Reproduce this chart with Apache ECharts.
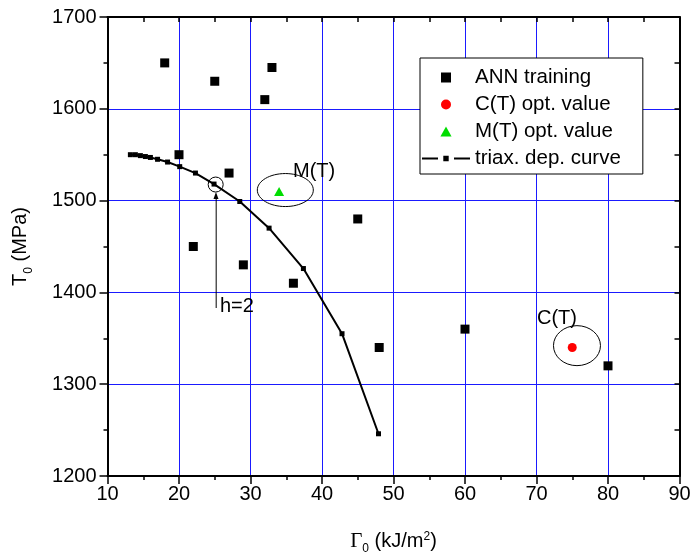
<!DOCTYPE html>
<html><head><meta charset="utf-8">
<script src="https://cdn.jsdelivr.net/npm/echarts@6/dist/echarts.min.js"></script>
<style>html,body{margin:0;padding:0;background:#fff}#c{width:691px;height:556px}</style>
</head><body><div id="c"></div>
<script>
// ---- data ----
const xTicks = [10, 20, 30, 40, 50, 60, 70, 80, 90];
const yTicks = [1200, 1300, 1400, 1500, 1600, 1700];
const seriesNames = ['ANN training', 'C(T) opt. value', 'M(T) opt. value', 'triax. dep. curve'];
const annX = [18, 25, 33, 32, 20, 27, 45, 22, 29, 36, 48, 60, 80];
const annY = [1650, 1630, 1645, 1610, 1550, 1530, 1480, 1450, 1430, 1410, 1340, 1360, 1320];
const ctX = [75];
const ctY = [1340];
const mtX = [34];
const mtY = [1510];
const curveX = [13.2, 13.9, 14.6, 15.3, 16.0, 17.0, 18.4, 20.1, 22.3, 24.9, 28.5, 32.6, 37.4, 42.8, 47.9];
const curveY = [1550, 1550, 1549, 1548, 1547, 1545, 1542, 1537, 1530, 1518, 1499, 1470, 1426, 1355, 1246];
// annotation anchors (data units)
const ellipseCenters = [[34.87, 1511.5], [75.66, 1342]];
const hPoint = [25.13, 1517.5];
const arrowBase = [25.2, 1383];
const noteTexts = ['M(T)', 'C(T)', 'h=2'];
const notePos = [[35.94, 1532], [70.07, 1371.6], [25.73, 1385.2]];

const pairs = (xs, ys) => xs.map((x, i) => [x, ys[i]]);
const FONT = '"Liberation Sans", Arial, sans-serif';
const SERIF = '"Liberation Serif", "Times New Roman", serif';
const BLUE = '#1a1aff';

const rich = {
  a: {fontSize: 20, fontFamily: FONT, color: '#000', lineHeight: 24, verticalAlign: 'top'},
  g: {fontSize: 21, fontFamily: SERIF, color: '#000', lineHeight: 24, verticalAlign: 'top'},
  sub: {fontSize: 12, fontFamily: FONT, color: '#000', lineHeight: 11, verticalAlign: 'bottom'},
  sup: {fontSize: 12, fontFamily: FONT, color: '#000', lineHeight: 14, verticalAlign: 'top'}
};

const axisLineStyle = {color: '#000', width: 2};
const tickStyle = {color: '#000', width: 1.5};
const plain = v => String(v);

const chart = echarts.init(document.getElementById('c'));
const option = {
  animation: false,
  backgroundColor: '#fff',
  grid: {left: 107.5, right: 11.5, top: 17, bottom: 80, containLabel: false, outerBoundsMode: 'none'},
  xAxis: [{
    type: 'value', position: 'bottom',
    min: xTicks[0], max: xTicks[xTicks.length - 1], interval: xTicks[1] - xTicks[0],
    name: '{g|Γ}{sub|0}{a| (kJ/m}{sup|2}{a|)}', nameLocation: 'middle', nameGap: 55,
    nameTextStyle: {rich: rich},
    axisLine: {show: true, onZero: false, lineStyle: axisLineStyle},
    axisTick: {show: true, inside: false, length: 8, lineStyle: tickStyle},
    minorTick: {show: true, splitNumber: 2, length: 4, lineStyle: tickStyle},
    splitLine: {show: true, lineStyle: {color: BLUE, width: 1}},
    minorSplitLine: {show: false},
    axisLabel: {color: '#000', fontSize: 20, fontFamily: FONT, margin: 8, formatter: plain}
  }, {
    type: 'value', position: 'top',
    min: xTicks[0], max: xTicks[xTicks.length - 1], interval: 5,
    axisLine: {show: true, onZero: false, lineStyle: axisLineStyle},
    axisTick: {show: true, inside: true, length: 5, lineStyle: tickStyle},
    axisLabel: {show: false}, splitLine: {show: false}
  }],
  yAxis: [{
    type: 'value', position: 'left',
    min: yTicks[0], max: yTicks[yTicks.length - 1], interval: yTicks[1] - yTicks[0],
    name: '{a|T}{sub|0}{a| (MPa)}', nameLocation: 'middle', nameGap: 73,
    nameTextStyle: {rich: rich},
    axisLine: {show: true, onZero: false, lineStyle: axisLineStyle},
    axisTick: {show: true, inside: false, length: 8, lineStyle: tickStyle},
    minorTick: {show: true, splitNumber: 2, length: 4, lineStyle: tickStyle},
    splitLine: {show: true, lineStyle: {color: BLUE, width: 1}},
    minorSplitLine: {show: false},
    axisLabel: {color: '#000', fontSize: 20, fontFamily: FONT, margin: 11, formatter: plain}
  }, {
    type: 'value', position: 'right',
    min: yTicks[0], max: yTicks[yTicks.length - 1], interval: 50,
    axisLine: {show: true, onZero: false, lineStyle: axisLineStyle},
    axisTick: {show: true, inside: true, length: 5, lineStyle: tickStyle},
    axisLabel: {show: false}, splitLine: {show: false}
  }],
  legend: {
    orient: 'vertical', left: 420, top: 58,
    padding: [9, 22, 5, 2], itemWidth: 48, itemHeight: 10, itemGap: 6,
    backgroundColor: '#fff', borderColor: '#000', borderWidth: 1, borderRadius: 0,
    textStyle: {fontSize: 20.5, fontFamily: FONT, color: '#000', lineHeight: 20},
    symbolKeepAspect: true,
    data: [
      {name: seriesNames[0], icon: 'path://M0,0H10V10H0Z', itemStyle: {opacity: 1}},
      {name: seriesNames[1], icon: 'circle', itemStyle: {opacity: 1}},
      {name: seriesNames[2], icon: 'path://M5,0L10,9L0,9Z', itemStyle: {opacity: 1}},
      {name: seriesNames[3], icon: 'path://M0,4.1H16V5.9H0Z M21.3,2.3H26.7V7.7H21.3Z M32,4.1H48V5.9H32Z', itemStyle: {borderWidth: 0, opacity: 1}}
    ]
  },
  series: [
    {name: seriesNames[3], type: 'line', data: pairs(curveX, curveY), symbol: 'rect', symbolSize: 5, showSymbol: true,
     lineStyle: {color: '#000', width: 2}, itemStyle: {color: '#000', borderWidth: 0, opacity: 1}, z: 2, silent: true},
    {name: seriesNames[0], type: 'scatter', data: pairs(annX, annY), symbol: 'rect', symbolSize: 9,
     itemStyle: {color: '#000', opacity: 1}, z: 3, silent: true},
    {name: seriesNames[1], type: 'scatter', data: pairs(ctX, ctY), symbol: 'circle', symbolSize: 9,
     itemStyle: {color: '#ff0000', opacity: 1}, z: 3, silent: true},
    {name: seriesNames[2], type: 'scatter', data: pairs(mtX, mtY), symbol: 'triangle', symbolSize: [10, 9],
     itemStyle: {color: '#00dd00', opacity: 1}, z: 3, silent: true}
  ]
};
chart.setOption(option);

// ---- annotations positioned through the axes ----
const px = p => chart.convertToPixel({xAxisIndex: 0, yAxisIndex: 0}, p);
const ellipseRadii = [[28, 16.5], [23.5, 20]];
const g = [];
ellipseCenters.forEach((c, i) => {
  const p = px(c);
  g.push({type: 'ellipse', z: 20, shape: {cx: p[0], cy: p[1], rx: ellipseRadii[i][0], ry: ellipseRadii[i][1]},
          style: {fill: 'none', stroke: '#000', lineWidth: 1}});
});
const hp = px(hPoint);
const hr = 7.5;
g.push({type: 'circle', z: 20, shape: {cx: hp[0], cy: hp[1], r: hr}, style: {fill: 'none', stroke: '#000', lineWidth: 1}});
const ab = px(arrowBase);
const tipY = hp[1] + hr;
g.push({type: 'line', z: 20, shape: {x1: ab[0], y1: ab[1], x2: hp[0] + 0.5, y2: tipY + 6}, style: {stroke: '#000', lineWidth: 1}});
g.push({type: 'polygon', z: 20, shape: {points: [[hp[0] + 0.3, tipY], [hp[0] - 2.2, tipY + 7], [hp[0] + 2.8, tipY + 7]]}, style: {fill: '#000'}});
noteTexts.forEach((t, i) => {
  const p = px(notePos[i]);
  g.push({type: 'text', z: 20, x: p[0], y: p[1],
          style: {text: t, fontSize: 20, fontFamily: FONT, fill: '#000', align: 'left', verticalAlign: 'middle'}});
});
chart.setOption({graphic: g});
</script>
</body></html>
